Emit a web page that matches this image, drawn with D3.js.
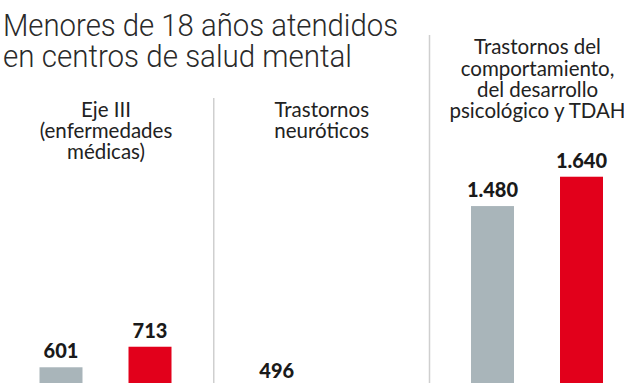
<!DOCTYPE html>
<html><head><meta charset="utf-8">
<script src="https://cdn.jsdelivr.net/npm/d3@7"></script>
<style>
html,body{margin:0;padding:0;background:#fff;overflow:hidden;}
svg{display:block;}
</style></head>
<body>
<svg id="chart" width="624" height="383"></svg>
<script>
const titleLines = ["Menores de 18 años atendidos", "en centros de salud mental"];
const categories = ["Eje III", "Trastornos neuróticos", "Trastornos TDAH"];
const categoryLabels = [
  ["Eje III", "(enfermedades", "médicas)"],
  ["Trastornos", "neuróticos"],
  ["Trastornos del", "comportamiento,", "del desarrollo", "psicológico y TDAH"]
];
const series = ["anterior", "actual"];
const valuesAnterior = [601, 496, 1480];
const valuesActual = [713, 340, 1640];
const valueLabelsAnterior = ["601", "496", "1.480"];
const valueLabelsActual = ["713", "340", "1.640"];
const seriesColors = ["#a9b5ba", "#e2001b"];

const svg = d3.select("#chart");
const W = 624, H = 383;

// title
const titleWidths = [395, 349];
svg.selectAll("text.title").data(titleLines).join("text")
  .attr("class", "title")
  .attr("x", 3).attr("y", (d, i) => 36 + i * 30.5)
  .attr("font-family", "Roboto").attr("font-weight", 300)
  .attr("font-size", 32).attr("fill", "#2a2a2a")
  .attr("textLength", (d, i) => titleWidths[i])
  .attr("lengthAdjust", "spacingAndGlyphs")
  .text(d => d);

const x0 = d3.scaleBand().domain(categories).range([0, 647.25]).padding(0);
const x1 = d3.scaleBand().domain(series).range([39.5, 171.5]).paddingInner(0.517).paddingOuter(0);
const y = d3.scaleLinear().domain([0, 1700]).range([477.5, 477.5 - 1700 * 0.1834]);

// dividers
const divTops = [null, 98, 35];
categories.forEach((c, i) => {
  if (i === 0) return;
  svg.append("line")
    .attr("x1", x0(c) - 2).attr("x2", x0(c) - 2)
    .attr("y1", divTops[i]).attr("y2", H)
    .attr("stroke", "#cfcfcf").attr("stroke-width", 1.5);
});

// category titles
const titleBaselines = [116.7, 116.7, 54.3];
categories.forEach((c, i) => {
  const cx = x0(c) + 106;
  svg.append("g").selectAll("text").data(categoryLabels[i]).join("text")
    .attr("x", cx).attr("y", (d, j) => titleBaselines[i] + j * 21.3)
    .attr("text-anchor", "middle")
    .attr("font-family", "Lato").attr("font-size", 20.5)
    .attr("fill", "#222")
    .text(d => d);
});

// bars
const rows = categories.map((c, i) => ({
  cat: c,
  vals: [
    {s: series[0], v: valuesAnterior[i], lab: valueLabelsAnterior[i], col: seriesColors[0]},
    {s: series[1], v: valuesActual[i], lab: valueLabelsActual[i], col: seriesColors[1]}
  ]
}));

const g = svg.selectAll("g.grp").data(rows).join("g")
  .attr("class", "grp")
  .attr("transform", d => `translate(${x0(d.cat)},0)`);

g.selectAll("rect").data(d => d.vals).join("rect")
  .attr("x", d => x1(d.s)).attr("width", x1.bandwidth())
  .attr("y", d => y(d.v)).attr("height", d => y(0) - y(d.v))
  .attr("fill", d => d.col);

g.selectAll("text.val").data(d => d.vals).join("text")
  .attr("class", "val")
  .attr("x", d => x1(d.s) + x1.bandwidth() / 2)
  .attr("y", d => y(d.v) - 9)
  .attr("text-anchor", "middle")
  .attr("font-family", "Lato").attr("font-weight", 900)
  .attr("font-size", 20).attr("fill", "#1a1a1a")
  .text(d => d.lab);
</script>
</body></html>
